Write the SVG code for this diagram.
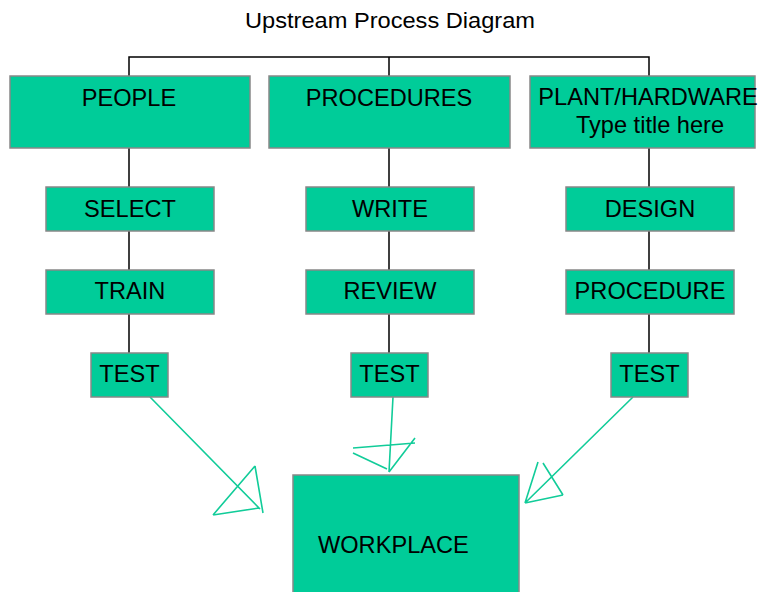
<svg xmlns="http://www.w3.org/2000/svg" width="759" height="592" viewBox="0 0 759 592">
<style>
.box{fill:#00CC99;stroke:#888888;stroke-width:1.5}
.t{font-family:"Liberation Sans",Arial,sans-serif;font-size:23.6px;fill:#000;text-anchor:middle}
.c{fill:none;stroke:#000;stroke-width:1.5}
.a{fill:none;stroke:#11CC99;stroke-width:1.6}
</style>
<rect width="759" height="592" fill="#fff"/>
<text x="390" y="28" class="t" style="font-size:21.5px" textLength="290" lengthAdjust="spacingAndGlyphs">Upstream Process Diagram</text>
<g id="connectors">
<path class="c" d="M129,76V57H649V76M389,57V76"/>
<path class="c" d="M129,148V187M129,231V270M129,314V353"/>
<path class="c" d="M389,148V187M389,231V270M389,314V353"/>
<path class="c" d="M649,148V187M649,231V270M649,314V353"/>
<path class="a" d="M150,397L260,509M255,466L263,513M213,515L259,508M213,515L255,466"/>
<path class="a" d="M393,397L389,472M353,448L415,443M415,438L389,472M353,453L387,469"/>
<path class="a" d="M633,397L525,503M538,462L525,503M543,463L563,495M563,495L525,503"/>
</g>
<g id="people"><rect class="box" x="10" y="76" width="240" height="72"/><text class="t" x="129" y="106">PEOPLE</text></g>
<g id="procedures"><rect class="box" x="269" y="76" width="241" height="72"/><text class="t" x="389" y="106">PROCEDURES</text></g>
<g id="plant"><rect class="box" x="530" y="76" width="225" height="72"/><text class="t" x="648" y="105">PLANT/HARDWARE</text><text class="t" x="650" y="133">Type title here</text></g>
<g id="select"><rect class="box" x="46" y="187" width="168" height="44"/><text class="t" x="130" y="217">SELECT</text></g>
<g id="train"><rect class="box" x="46" y="270" width="168" height="44"/><text class="t" x="130" y="299">TRAIN</text></g>
<g id="test1"><rect class="box" x="91" y="353" width="77" height="44"/><text class="t" x="129.5" y="382">TEST</text></g>
<g id="write"><rect class="box" x="306" y="187" width="168" height="44"/><text class="t" x="390" y="217">WRITE</text></g>
<g id="review"><rect class="box" x="306" y="270" width="168" height="44"/><text class="t" x="390" y="299">REVIEW</text></g>
<g id="test2"><rect class="box" x="351" y="353" width="77" height="44"/><text class="t" x="389.5" y="382">TEST</text></g>
<g id="design"><rect class="box" x="566" y="187" width="168" height="44"/><text class="t" x="650" y="217">DESIGN</text></g>
<g id="procedure"><rect class="box" x="566" y="270" width="168" height="44"/><text class="t" x="650" y="299">PROCEDURE</text></g>
<g id="test3"><rect class="box" x="611" y="353" width="77" height="44"/><text class="t" x="649.5" y="382">TEST</text></g>
<g id="workplace"><rect class="box" x="293" y="475" width="226" height="125"/><text class="t" x="318" y="553" style="text-anchor:start">WORKPLACE</text></g>
</svg>
